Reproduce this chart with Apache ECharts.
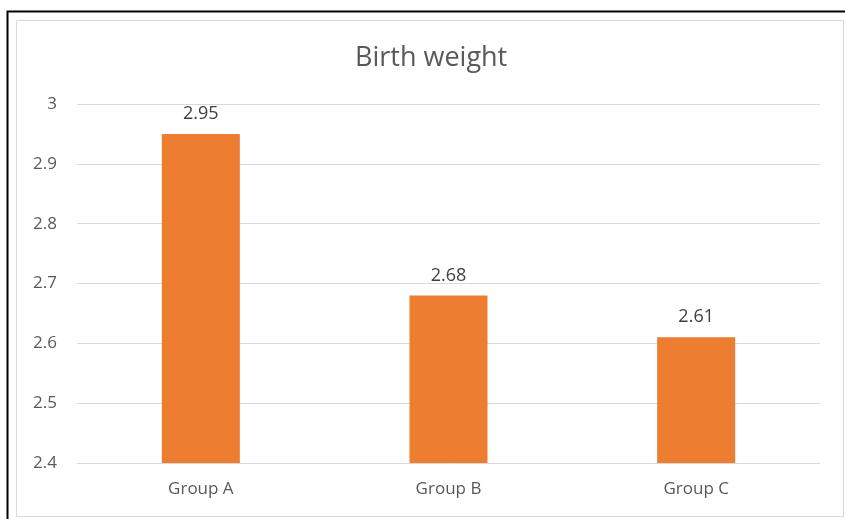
<!DOCTYPE html>
<html>
<head>
<meta charset="utf-8">
<script src="https://cdn.jsdelivr.net/npm/echarts@6/dist/echarts.min.js"></script>
<style>
  html, body { margin: 0; padding: 0; background: #fff; }
  #birthWeight { width: 845px; height: 519px; }
</style>
</head>
<body>
<div id="birthWeight"></div>
<script>
const categories = ['Group A', 'Group B', 'Group C'];
const weights = [2.95, 2.68, 2.61];
const yTicks = [2.4, 2.5, 2.6, 2.7, 2.8, 2.9, 3];

const chartDom = document.getElementById('birthWeight');
const myChart = echarts.init(chartDom);
const option = {
  animation: false,
  textStyle: { fontFamily: 'Open Sans' },
  title: {
    text: 'Birth weight',
    left: 350,
    top: 40,
    textStyle: {
      color: '#595959',
      fontFamily: 'Open Sans',
      fontSize: 27,
      fontWeight: 'normal'
    }
  },
  graphic: [
    {
      type: 'rect',
      shape: { x: 7.5, y: 11.5, width: 845, height: 520 },
      style: { fill: null, stroke: '#000', lineWidth: 2 },
      silent: true
    },
    {
      type: 'rect',
      shape: { x: 16.5, y: 20.5, width: 827, height: 496 },
      style: { fill: null, stroke: '#d9d9d9', lineWidth: 1 },
      silent: true
    }
  ],
  grid: {
    left: 77,
    right: 25,
    top: 104,
    bottom: 56
  },
  xAxis: {
    type: 'category',
    data: categories,
    axisLine: { lineStyle: { color: '#d9d9d9' } },
    axisTick: { show: false },
    axisLabel: { color: '#595959', fontSize: 17, margin: 18 }
  },
  yAxis: {
    type: 'value',
    min: yTicks[0],
    max: yTicks[yTicks.length - 1],
    interval: 0.1,
    axisLine: { show: false },
    axisTick: { show: false },
    splitLine: { lineStyle: { color: '#d9d9d9' } },
    axisLabel: {
      color: '#595959',
      fontSize: 17,
      margin: 20,
      formatter: v => String(Math.round(v * 10) / 10)
    }
  },
  series: [
    {
      type: 'bar',
      data: weights,
      barWidth: '31.5%',
      itemStyle: { color: '#ED7D31' },
      label: {
        show: true,
        position: 'top',
        distance: 11,
        color: '#404040',
        fontSize: 18,
        formatter: p => p.value.toFixed(2)
      }
    }
  ]
};
myChart.setOption(option);
window.addEventListener('resize', () => {
  myChart.resize();
});
</script>
</body>
</html>
